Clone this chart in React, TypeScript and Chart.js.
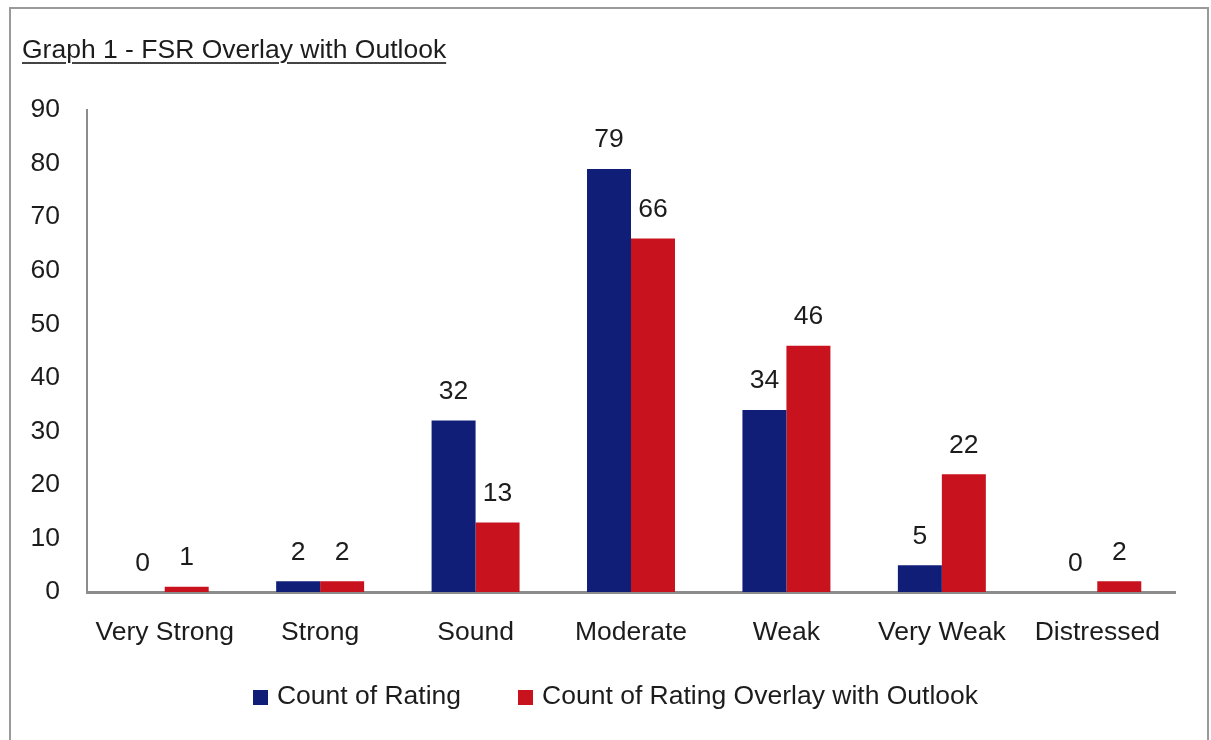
import React, { useEffect, useRef } from 'react';
import { Chart, registerables } from 'chart.js';

Chart.register(...registerables);

const categories = ['Very Strong', 'Strong', 'Sound', 'Moderate', 'Weak', 'Very Weak', 'Distressed'];
const countOfRating = [0, 2, 32, 79, 34, 5, 0];
const countOverlayOutlook = [1, 2, 13, 66, 46, 22, 2];
const seriesNames = ['Count of Rating', 'Count of Rating Overlay with Outlook'];
const yMin = 0;
const yMax = 90;
const yStep = 10;
const titleText = 'Graph 1 - FSR Overlay with Outlook';

const FONT = "'Liberation Sans', Arial, Helvetica, sans-serif";
const FONT_SIZE = 26.5;
const TEXT_COLOR = '#1c1c1c';
const BLUE = '#101e78';
const RED = '#c8121e';
const AXIS_COLOR = '#8c8c8c';

const valueLabels = {
  id: 'valueLabels',
  afterDatasetsDraw(chart: any) {
    const ctx = chart.ctx;
    ctx.save();
    ctx.font = `${FONT_SIZE}px ${FONT}`;
    ctx.fillStyle = TEXT_COLOR;
    ctx.textAlign = 'center';
    ctx.textBaseline = 'alphabetic';
    chart.data.datasets.forEach((ds: any, i: number) => {
      const meta = chart.getDatasetMeta(i);
      meta.data.forEach((bar: any, j: number) => {
        ctx.fillText(String(ds.data[j]), bar.x, bar.y - 21.5);
      });
    });
    ctx.restore();
  },
};

// Legend drawn below the axis, centred slightly right of the canvas centre
const bottomLegend = {
  id: 'bottomLegend',
  afterDraw(chart: any) {
    const ctx = chart.ctx;
    const datasets = chart.data.datasets;
    const box = 15;
    const gapText = 9;
    const gapItem = 57;
    const centerX = chart.width / 2 + 10;
    const centerY = 697;
    ctx.save();
    ctx.font = `${FONT_SIZE}px ${FONT}`;
    ctx.textAlign = 'left';
    ctx.textBaseline = 'middle';
    const widths = datasets.map((d: any) => box + gapText + ctx.measureText(d.label).width);
    const total = widths.reduce((a: number, b: number) => a + b, 0) + gapItem * (datasets.length - 1);
    let x = centerX - total / 2;
    datasets.forEach((d: any, i: number) => {
      ctx.fillStyle = d.backgroundColor;
      ctx.fillRect(Math.round(x), Math.round(centerY - box / 2), box, box);
      ctx.fillStyle = TEXT_COLOR;
      ctx.fillText(d.label, x + box + gapText, centerY);
      x += widths[i] + gapItem;
    });
    ctx.restore();
  },
};

export default function App() {
  const canvasRef = useRef<HTMLCanvasElement | null>(null);

  useEffect(() => {
    if (!canvasRef.current) return;
    const chart = new Chart(canvasRef.current, {
      type: 'bar',
      data: {
        labels: categories,
        datasets: [
          {
            label: seriesNames[0],
            data: countOfRating,
            backgroundColor: BLUE,
            borderWidth: 0,
            categoryPercentage: 0.566,
            barPercentage: 1.0,
          },
          {
            label: seriesNames[1],
            data: countOverlayOutlook,
            backgroundColor: RED,
            borderWidth: 0,
            categoryPercentage: 0.566,
            barPercentage: 1.0,
          },
        ],
      },
      options: {
        responsive: false,
        animation: false,
        layout: { padding: { top: 110, left: 28, right: 36, bottom: 91 } },
        plugins: {
          tooltip: { enabled: false },
          title: { display: false },
          legend: { display: false },
        },
        scales: {
          x: {
            grid: { display: false, drawTicks: false },
            border: { display: true, color: AXIS_COLOR, width: 3 },
            ticks: { color: TEXT_COLOR, font: { family: FONT, size: FONT_SIZE }, padding: 25, maxRotation: 0, autoSkip: false },
            afterFit(scale: any) {
              scale.height = 57;
              scale.paddingLeft = 0;
              scale.paddingRight = 0;
            },
          },
          y: {
            min: yMin,
            max: yMax,
            grid: { display: false, drawTicks: false },
            border: { display: true, color: AXIS_COLOR, width: 2 },
            ticks: { stepSize: yStep, color: TEXT_COLOR, font: { family: FONT, size: FONT_SIZE }, padding: 27 },
            afterFit(scale: any) {
              scale.width = 59;
              scale.paddingTop = 0;
              scale.paddingBottom = 0;
            },
          },
        },
      },
      plugins: [valueLabels, bottomLegend],
    });
    return () => chart.destroy();
  }, []);

  return (
    <div style={{ position: 'absolute', left: 0, top: 0, width: 1211, height: 740, overflow: 'hidden', background: '#fff' }}>
      <div
        style={{
          position: 'absolute',
          left: 9,
          top: 7,
          width: 1200,
          height: 780,
          border: '2px solid #9a9a9a',
          boxSizing: 'border-box',
        }}
      />
      <canvas
        ref={canvasRef}
        width={1211}
        height={740}
        style={{ position: 'absolute', left: 0, top: 0, width: 1211, height: 740, display: 'block' }}
      />
      <div
        style={{
          position: 'absolute',
          left: 22,
          top: 36,
          fontFamily: FONT,
          fontSize: FONT_SIZE,
          lineHeight: 1,
          color: TEXT_COLOR,
          whiteSpace: 'nowrap',
          textDecoration: 'underline',
          textDecorationThickness: '2px',
          textUnderlineOffset: '4px',
          textDecorationColor: '#444',
        }}
      >
        {titleText}
      </div>
    </div>
  );
}
